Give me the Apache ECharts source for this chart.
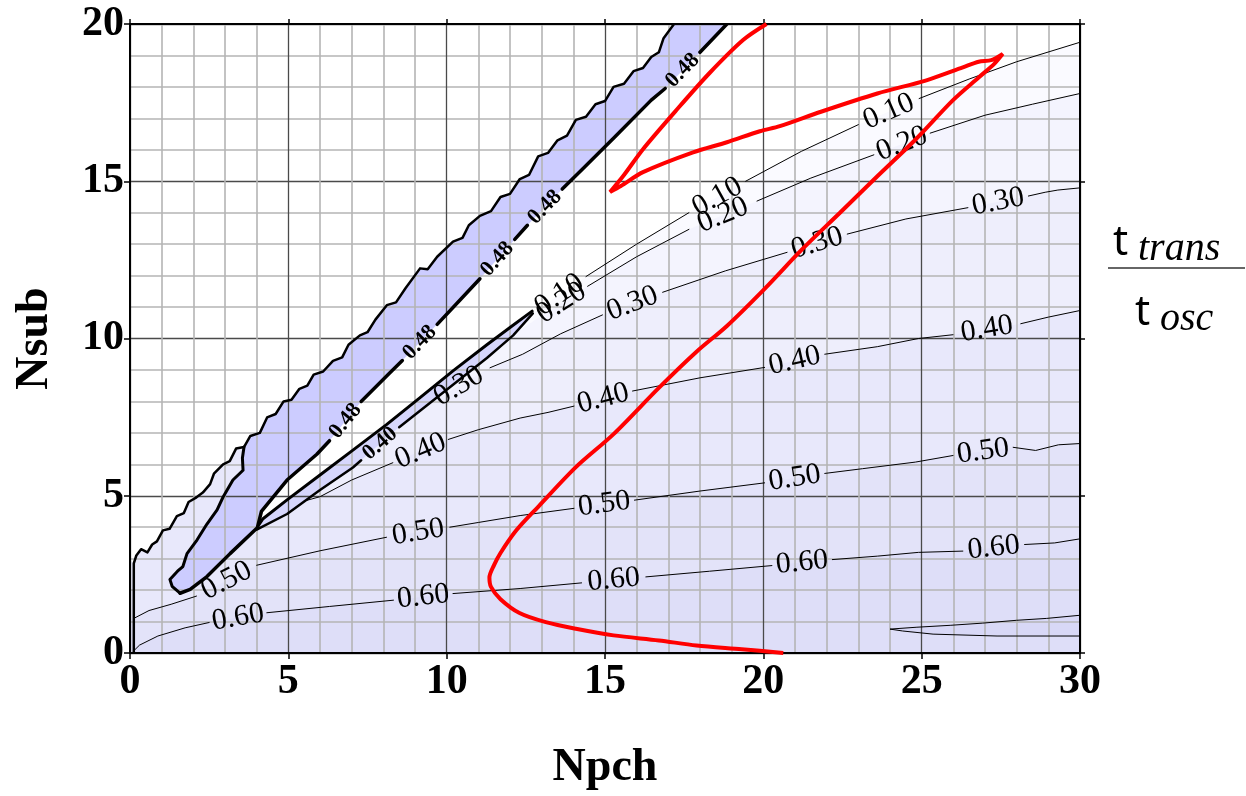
<!DOCTYPE html>
<html><head><meta charset="utf-8">
<script src="https://cdn.jsdelivr.net/npm/echarts@6/dist/echarts.min.js"></script>
<style>html,body{margin:0;padding:0;background:#fff}#c{width:1246px;height:796px}</style>
</head><body><div id="c"></div>
<script>
// ---- tick labels ----
const xTicks = [0, 5, 10, 15, 20, 25, 30];
const xTickLabels = ['0', '5', '10', '15', '20', '25', '30'];
const yTicks = [0, 5, 10, 15, 20];
const yTickLabels = ['0', '5', '10', '15', '20'];
const levels = ['0.10', '0.20', '0.30', '0.40', '0.50', '0.60'];

// ---- contour lines (null = gap holding a label) ----
const c010 = [[12.72,10.8], null, [14.4,11.97],[16.0,13.0],[17.65,14.0], null, [19.44,15.0],[21.2,15.95],[23.0,16.8], null, [24.92,17.63],[26.5,18.25],[28.0,18.8],[30,19.42]];
const c020 = [[12.8,10.6], null, [14.45,11.66],[16.0,12.6],[17.65,13.47], null, [19.8,14.37],[21.5,15.1],[23.49,15.84], null, [25.27,16.53],[27.0,17.1],[28.5,17.45],[30,17.79]];
const c030 = [[9.4,7.9], null, [11.37,9.07],[12.4,9.5],[13.6,10.15],[14.92,10.75], null, [16.82,11.47],[18.8,12.15],[20.75,12.74], null, [22.65,13.32],[24.5,13.8],[26.46,14.16], null, [28.37,14.53],[28.9,14.65],[29.3,14.72],[30,14.79]];
const c040 = [[5.5,4.83],[6.0,4.97],[7.0,5.5],[8.3,6.05], null, [10.05,6.79],[11.0,7.1],[12.32,7.47],[13.2,7.65],[14.02,7.85], null, [15.87,8.33],[18.0,8.75],[20.04,9.08], null, [21.94,9.5],[23.6,9.74],[24.9,10.0],[25.99,10.12], null, [28.13,10.47],[29.0,10.68],[30,10.89]];
const c050 = [[0.12,1.1],[0.6,1.35],[1.3,1.55],[2.1,1.81], null, [4.0,2.79],[6.0,3.25],[8.1,3.68], null, [10.1,4.0],[11.0,4.15],[12.32,4.37],[14.02,4.6], null, [15.93,4.86],[18.0,5.15],[20.04,5.41], null, [21.94,5.71],[23.13,5.86],[24.8,6.07],[25.99,6.28], null, [27.89,6.54],[28.6,6.44],[29.32,6.62],[30,6.66]];
const c060 = [[0.1,0.05],[0.3,0.25],[0.88,0.54],[1.74,0.8],[2.5,0.97], null, [4.32,1.28],[6.3,1.48],[8.32,1.68], null, [10.2,1.89],[12.32,2.05],[14.26,2.23], null, [16.29,2.42],[18.3,2.6],[20.27,2.78], null, [22.18,2.97],[23.6,3.08],[24.9,3.2],[26.3,3.24], null, [28.25,3.45],[29.2,3.5],[30,3.63]];
const c070 = [[30,1.2],[28.95,1.1],[28.0,1.04],[26.93,0.95],[25.9,0.88],[24.85,0.82],[24.0,0.76],[24.4,0.7],[25.36,0.6],[27.38,0.54],[30,0.54]];

// ---- ridge structure (jagged upper edge, stripe edges, slit, thin strip) ----
const L1 = [[0.12,0],[0.12,2.85],[0.2,3.1],[0.35,3.3],[0.55,3.2],[0.7,3.45],[0.85,3.55],[1.04,3.9],[1.25,3.95],[1.48,4.35],[1.7,4.45],[1.85,4.8],[2.1,4.95],[2.3,5.1],[2.53,5.37],[2.65,5.7],[2.94,6.0],[3.15,6.1],[3.35,6.5],[3.6,6.55],[3.8,6.9],[4.1,7.0],[4.33,7.49],[4.6,7.6],[4.85,8.0],[5.1,8.05],[5.35,8.4],[5.6,8.5],[5.8,8.85],[6.1,8.95],[6.41,9.29],[6.7,9.4],[6.9,9.8],[7.26,10.1],[7.5,10.2],[7.75,10.6],[8.11,11.06],[8.4,11.15],[8.7,11.6],[9.16,12.23],[9.4,12.2],[9.7,12.6],[10.2,13.08],[10.5,13.2],[10.7,13.6],[11.05,13.9],[11.4,14.05],[11.7,14.5],[12.0,14.6],[12.31,15.07],[12.6,15.2],[12.89,15.79],[13.2,15.9],[13.5,16.3],[13.8,16.45],[14.08,16.95],[14.4,17.05],[14.7,17.45],[15.0,17.55],[15.27,18.0],[15.6,18.1],[15.9,18.5],[16.2,18.6],[16.46,18.95],[16.7,19.1],[16.85,19.55],[17.18,20]];
const S1 = [[1.58,1.9],[1.33,2.12],[1.26,2.34],[1.5,2.6],[1.67,2.75],[1.8,3.16],[2.12,3.6],[2.43,4.1],[2.75,4.55],[2.94,4.96],[3.25,5.5],[3.57,5.81],[3.55,6.2],[3.6,6.55]];
const L2 = [[1.58,1.9],[1.9,2.02],[2.43,2.43],[3.16,3.16],[4.02,3.98],[4.15,4.5],[4.96,5.5],[5.9,6.32],[6.3,6.75], null, [7.3,8.0],[8.2,8.9],[8.6,9.3], null, [9.7,10.45],[10.4,11.2],[11.05,11.9], null, [12.15,13.15],[12.55,13.6], null, [13.65,14.75],[14.3,15.4],[15.3,16.4],[16.46,17.58],[16.9,17.95], null, [18.0,19.1],[18.85,20]];
const L3 = [[4.05,4.05],[4.2,4.27],[4.96,4.87],[6.0,5.66],[7.04,6.45],[8.11,7.27],[9.16,8.12],[10.2,8.97],[11.27,9.8],[12.0,10.35],[12.7,10.87]];
const L4 = [[4.0,3.92],[4.96,4.42],[6.0,5.18],[7.04,5.9],[7.3,6.13], null, [8.5,7.18],[9.16,7.7],[10.2,8.53],[11.27,9.38],[12.1,10.1],[12.72,10.8]];

// ---- red curve ----
const redCurve = [[20.63,0.0],[19.32,0.12],[17.89,0.24],[16.7,0.4],[15.27,0.56],[14.08,0.77],[13.13,0.98],[12.3,1.27],[11.7,1.71],[11.4,2.1],[11.35,2.4],[11.5,2.8],[11.7,3.18],[12.2,3.9],[12.89,4.65],[14.08,5.91],[15.27,6.96],[16.7,8.43],[17.89,9.58],[18.85,10.4],[20.04,11.58],[21.23,12.84],[22.42,14.0],[23.6,15.16],[24.8,16.32],[25.99,17.58],[26.8,18.3],[27.3,18.74],[27.56,19.05],[27.2,18.85],[26.8,18.8],[26.3,18.62],[25.15,18.21],[23.6,17.79],[21.82,17.21],[20.52,16.75],[19.89,16.59],[18.85,16.24],[17.78,15.92],[16.2,15.29],[15.5,14.85],[15.16,14.66],[15.6,15.2],[16.2,16.02],[17.27,17.28],[18.31,18.45],[19.36,19.49],[20.1,20.0]];

// ---- helpers ----
const nn = a => a.filter(p => p !== null);
function segs(arr){ const out=[]; let cur=[]; arr.forEach(p=>{ if(p===null){ if(cur.length) out.push(cur); cur=[]; } else cur.push(p); }); if(cur.length) out.push(cur); return out; }
function gaps(arr){ const g=[]; for(let i=1;i<arr.length-1;i++) if(arr[i]===null) g.push([arr[i-1],arr[i+1]]); return g; }

const L4n = nn(L4);
const lowerL2 = nn(L2).filter(p => p[1] <= 3.98 && p[0] >= 1.9);
function bandPoly(c){ const pts = nn(c); const sy = pts[0][1]; return pts.concat([[30,0],[1.9,0]], lowerL2, L4n.filter(p => p[1] < sy)); }

const fillPolys = [
  bandPoly(c010), bandPoly(c020), bandPoly(c030), bandPoly(c040),
  [[0,0],[0,2.95]].concat(L1.filter(p => p[1] >= 2.85 && p[1] <= 6.55), S1.slice().reverse(), [[1.9,2.02],[1.9,0]]),
  nn(c050).concat([[30,0],[0,0],[0,1.1]]),
  nn(c060).concat([[30,0],[0,0]]),
  c070,
  S1.concat(L1.filter(p => p[1] > 6.55), [[18.85,20]], nn(L2).reverse()),
  L3.concat(L4n.slice().reverse())
];
const fillColors = ['#fafaff','#f4f4fe','#eeeefc','#e8e8fb','#e8e8fb','#e3e3f9','#dedef8','#d8d8f6','#ccccff','#d6d6fc'];

const lineSets = [L1, S1, L2, L3, L4, c010, c020, c030, c040, c050, c060, c070];
const lineWidths = [2.5, 3, 3.5, 3, 2.5, 1, 1, 1, 1, 1, 1, 1];

const labelItems = [];
[c010,c020,c030,c040,c050,c060].forEach((c,k) => gaps(c).forEach(g => labelItems.push({a:g[0], b:g[1], text:levels[k], font:'30px "Liberation Serif"'})));
gaps(L2).forEach(g => labelItems.push({a:g[0], b:g[1], text:'0.48', font:'bold 22px "Liberation Serif"'}));
gaps(L4).forEach(g => labelItems.push({a:g[0], b:g[1], text:'0.40', font:'bold 22px "Liberation Serif"'}));

const serif = '"Liberation Serif", "Times New Roman", serif';
const chart = echarts.init(document.getElementById('c'));
chart.setOption({
  animation: false,
  backgroundColor: '#fff',
  grid: {left:130, right:166, top:24, bottom:139, containLabel:false},
  xAxis: [{
    type:'value', min:0, max:30, interval:5, position:'bottom', z:3,
    axisLine:{show:true, onZero:false, lineStyle:{color:'#000', width:2}},
    axisTick:{show:true, length:6, lineStyle:{color:'#000', width:1.5}},
    axisLabel:{fontFamily:serif, fontWeight:'bold', fontSize:42, color:'#000', margin:8,
      formatter: v => { const i = xTicks.indexOf(v); return i < 0 ? '' : xTickLabels[i]; }},
    splitLine:{show:true, lineStyle:{color:'#4a4a4a', width:1.3}},
    minorTick:{show:true, splitNumber:5, length:0},
    minorSplitLine:{show:true, lineStyle:{color:'#b4b4b4', width:1.6}},
    name:'Npch', nameLocation:'middle', nameGap:92,
    nameTextStyle:{fontFamily:serif, fontWeight:'bold', fontSize:46, color:'#000'}
  },{
    type:'value', min:0, max:30, interval:5, position:'top', z:3,
    axisLine:{show:true, onZero:false, lineStyle:{color:'#000', width:2}},
    axisTick:{show:true, length:5, lineStyle:{color:'#000', width:1.5}},
    axisLabel:{show:false}, splitLine:{show:false}
  }],
  yAxis: [{
    type:'value', min:0, max:20, interval:5, position:'left', z:3,
    axisLine:{show:true, onZero:false, lineStyle:{color:'#000', width:2}},
    axisTick:{show:true, length:6, lineStyle:{color:'#000', width:1.5}},
    axisLabel:{fontFamily:serif, fontWeight:'bold', fontSize:42, color:'#000', margin:6,
      formatter: v => { const i = yTicks.indexOf(v); return i < 0 ? '' : yTickLabels[i]; }},
    splitLine:{show:true, lineStyle:{color:'#4a4a4a', width:1.3}},
    minorTick:{show:true, splitNumber:5, length:0},
    minorSplitLine:{show:true, lineStyle:{color:'#b4b4b4', width:1.6}},
    name:'Nsub', nameLocation:'middle', nameGap:72,
    nameTextStyle:{fontFamily:serif, fontWeight:'bold', fontSize:46, color:'#000'}
  },{
    type:'value', min:0, max:20, interval:5, position:'right', z:3,
    axisLine:{show:true, onZero:false, lineStyle:{color:'#000', width:2}},
    axisTick:{show:true, length:5, lineStyle:{color:'#000', width:1.5}},
    axisLabel:{show:false}, splitLine:{show:false}
  }],
  graphic: [
    {type:'text', left:1113, top:222, style:{text:'t', font:'42px "Noto Sans"', fill:'#000'}},
    {type:'text', left:1138, top:229, style:{text:'trans', font:'italic 40px "Liberation Serif"', fill:'#000'}},
    {type:'line', shape:{x1:1108, y1:268, x2:1245, y2:268}, style:{stroke:'#666', lineWidth:2}},
    {type:'text', left:1135, top:292, style:{text:'t', font:'42px "Noto Sans"', fill:'#000'}},
    {type:'text', left:1160, top:299, style:{text:'osc', font:'italic 40px "Liberation Serif"', fill:'#000'}}
  ],
  series: [
    {
      type:'custom', z:1, silent:true, clip:true,
      data: fillPolys.map((p,i) => [p[0][0], p[0][1], i]),
      renderItem: (params, api) => ({
        type:'polygon',
        shape:{points: fillPolys[params.dataIndex].map(p => api.coord(p))},
        style:{fill: fillColors[params.dataIndex], stroke:null}
      })
    },
    {
      type:'custom', z:5, silent:true, clip:true,
      data: lineSets.map((p,i) => [nn(p)[0][0], nn(p)[0][1], i]),
      renderItem: (params, api) => ({
        type:'group',
        children: segs(lineSets[params.dataIndex]).map(s => ({
          type:'polyline',
          shape:{points: s.map(p => api.coord(p))},
          style:{stroke:'#000', lineWidth: lineWidths[params.dataIndex], fill:null, lineJoin:'round', lineCap:'round'}
        }))
      })
    },
    {
      type:'custom', z:6, silent:true, clip:false,
      data: labelItems.map((l,i) => [(l.a[0]+l.b[0])/2, (l.a[1]+l.b[1])/2, i]),
      renderItem: (params, api) => {
        const l = labelItems[params.dataIndex];
        const p1 = api.coord(l.a), p2 = api.coord(l.b);
        return {
          type:'text', x:(p1[0]+p2[0])/2, y:(p1[1]+p2[1])/2,
          rotation: Math.atan2(p1[1]-p2[1], p2[0]-p1[0]),
          style:{text:l.text, font:l.font, fill:'#000', align:'center', verticalAlign:'middle'}
        };
      }
    },
    {
      type:'line', z:7, data: redCurve, smooth:0.3, showSymbol:false, silent:true,
      lineStyle:{color:'#ff0000', width:4}
    }
  ]
});
</script></body></html>
